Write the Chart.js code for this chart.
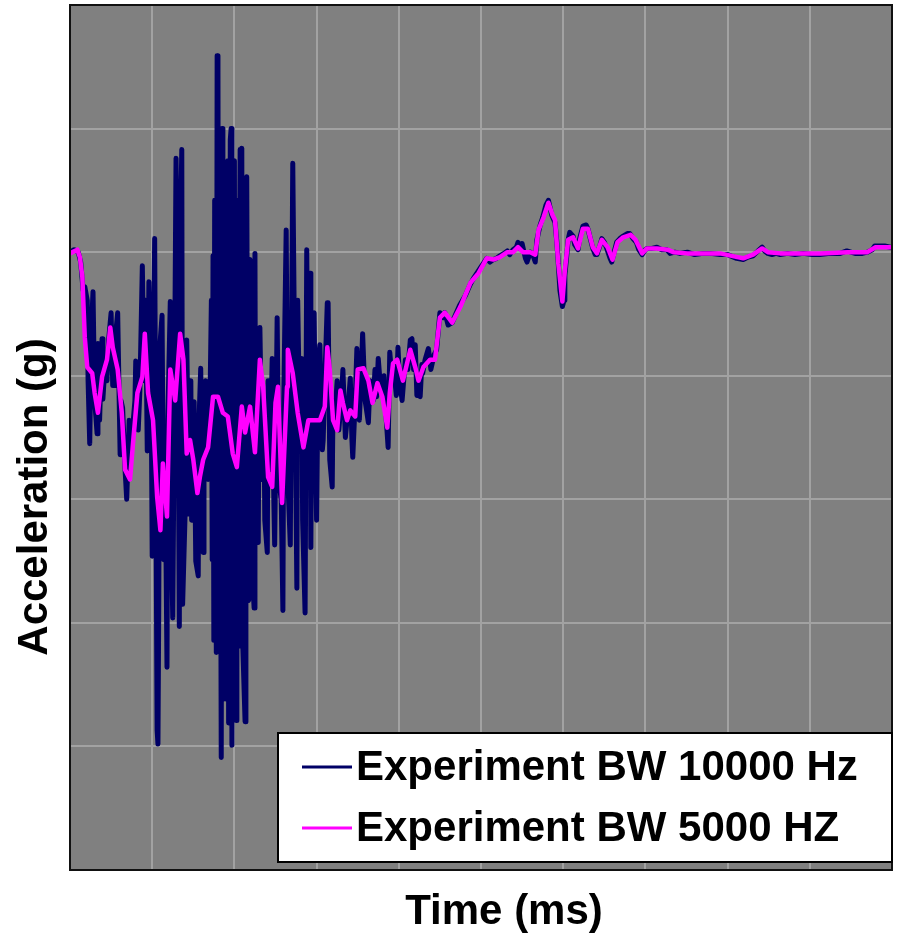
<!DOCTYPE html>
<html>
<head>
<meta charset="utf-8">
<title>Acceleration vs Time</title>
<script src="https://cdn.jsdelivr.net/npm/chart.js@4.4.0/dist/chart.umd.min.js"></script>
<style>
  html, body { margin: 0; padding: 0; background: #ffffff; }
  #wrap { width: 897px; height: 935px; }
</style>
</head>
<body>
<div id="wrap"><canvas id="myChart" width="897" height="935"></canvas></div>
<script>
// time in ms (0-100), acceleration in g (-50..20)

const seriesLabels = ["Experiment BW 10000 Hz", "Experiment BW 5000 HZ"];
const xTitle = "Time (ms)";
const yTitle = "Acceleration (g)";

// BW 10000 Hz (noisy one)
const blueTime = [
  0,0.5,1.0,1.3,1.6,1.8,2.1,2.2,2.4,2.6,
  2.8,3.0,3.3,3.4,3.6,3.9,4.0,4.3,4.5,4.7,
  5.0,5.2,5.5,5.6,5.8,6.1,6.2,6.4,6.7,6.9,
  7.2,7.4,7.7,7.9,8.0,8.3,8.5,8.8,9.0,9.2,
  9.4,9.6,9.9,10.0,10.1,10.3,10.6,10.7,10.8,10.9,
  11.2,11.4,11.6,11.8,11.9,12.2,12.3,12.5,12.7,12.9,
  13.1,13.3,13.4,13.6,13.7,14.0,14.2,14.5,14.7,14.8,
  15.1,15.3,15.6,15.7,15.9,16.2,16.3,16.5,16.8,17.0,
  17.2,17.3,17.4,17.5,17.6,17.8,17.9,18.0,18.1,18.2,
  18.4,18.5,18.6,18.7,18.9,19.0,19.1,19.2,19.3,19.5,
  19.6,19.7,19.8,20.0,20.1,20.2,20.3,20.4,20.7,20.8,
  20.9,21.0,21.3,21.4,21.5,21.7,21.8,21.9,22.1,22.4,
  22.5,22.6,22.9,23.0,23.1,23.4,23.6,23.7,24.0,24.1,
  24.3,24.6,24.8,24.9,25.2,25.4,25.7,25.9,26.0,26.3,
  26.5,26.8,26.9,27.1,27.4,27.6,27.7,28.0,28.2,28.3,
  28.6,28.8,29.0,29.2,29.3,29.4,29.7,29.9,30.0,30.2,
  30.4,30.7,30.8,31.0,31.3,31.4,31.6,31.9,32.0,32.2,
  32.5,32.7,33.0,33.2,33.5,33.7,34.1,34.3,34.4,34.7,
  34.9,35.2,35.4,35.6,35.9,36.3,36.5,36.9,37.1,37.3,
  37.5,37.8,38.2,38.4,38.7,38.9,39.2,39.4,39.7,39.9,
  40.1,40.4,40.8,41.1,41.4,41.6,41.8,42.0,42.2,42.5,
  42.6,42.8,42.9,43.2,43.6,43.9,44.3,44.6,45.0,45.4,
  45.6,46.0,46.5,47.0,47.4,48.1,48.7,49.1,49.6,50.2,
  50.7,51.1,51.5,51.9,52.3,52.8,53.2,53.5,53.9,54.3,
  54.5,54.7,55.0,55.4,55.6,56.0,56.3,56.6,56.8,57.2,
  57.5,57.9,58.2,58.4,58.6,59.0,59.2,59.4,59.6,59.9,
  60.1,60.2,60.5,60.6,60.8,61.2,61.4,61.8,62.0,62.4,
  62.8,63.0,63.3,63.6,63.9,64.1,64.5,64.7,65.0,65.3,
  65.7,65.9,66.2,66.5,66.9,67.3,67.8,68.1,68.5,68.9,
  69.2,69.6,70.0,70.2,70.8,71.4,72.0,72.6,73.0,73.6,
  74.2,75.1,76.0,77.0,77.9,79.1,80.0,81.1,81.9,82.5,
  83.1,83.7,84.2,84.5,84.9,85.4,85.9,86.4,87.3,88.2,
  89.2,90.3,91.2,92.5,93.7,94.5,95.5,96.4,97.0,97.6,
  97.9,98.5,99.1,99.8
];
const blueAccel = [
  0,0.2,0,-0.8,-3.1,-2.8,-3.9,-10.4,-15.5,-6.3,
  -3.2,-12.0,-14.7,-7.4,-13.6,-7.0,-11.9,-8.7,-10.4,-7.1,
  -4.9,-10.8,-10.8,-6.3,-4.9,-16.4,-12.0,-12.6,-17.6,-20.0,
  -13.6,-16.6,-13.6,-12.0,-8.8,-14.4,-11.2,-1.1,-10.4,-3.9,
  -16.1,-2.4,-13.6,-24.6,-12.0,1.1,-38.7,-39.8,-28.2,-7.9,
  -5.1,-24.9,-18.4,-33.6,-13.6,-4.0,-21.7,-29.6,-12.0,7.6,
  -3.9,-30.3,0.2,8.3,-28.5,-21.2,-7.1,-21.2,-10.4,-21.7,
  -12.1,-25.0,-26.2,-13.6,-9.4,-24.3,-15.2,-10.4,-18.4,-13.6,
  -3.9,-24.9,-0.3,-31.4,4.2,-32.4,15.9,14.7,-28.2,9.1,
  -40.9,10.0,-36.2,4.2,-31.0,6.2,-36.2,7.4,-38.1,9.1,
  10.0,-39.9,4.2,7.4,-31.4,-37.9,4.2,-29.8,8.3,-31.9,
  8.4,-31.4,-38.0,5.0,6.1,-28.2,-28.0,-0.6,-24.9,-28.8,
  -0.1,-21.7,-23.5,-12.0,-6.1,-18.4,-13.6,-21.7,-24.3,-10.4,
  -17.6,-8.6,-20.1,-23.7,-5.3,-18.4,-20.1,-29.0,-12.0,1.8,
  -18.4,-23.7,-12.0,7.2,-13.6,-27.2,-3.9,-16.0,-8.6,-21.7,
  -29.2,0.2,-16.8,-1.7,-23.9,-12.0,-4.9,-17.6,-21.7,-8.7,
  -7.5,-16.0,-15.2,-10.4,-4.1,-4.1,-16.8,-19.0,-12.0,-13.6,
  -10.4,-14.4,-12.0,-9.5,-15.0,-13.6,-10.2,-15.2,-16.6,-12.0,
  -7.8,-13.6,-10.4,-6.6,-12.0,-13.8,-10.4,-12.0,-9.5,-11.7,
  -8.6,-11.2,-10.0,-12.8,-15.8,-8.1,-10.4,-9.5,-11.6,-7.7,
  -10.4,-12.0,-8.7,-9.5,-7.1,-7.0,-9.5,-7.5,-11.6,-10.4,
  -11.7,-9.1,-9.8,-8.7,-7.8,-9.5,-8.3,-7.9,-4.9,-5.3,
  -4.9,-5.9,-5.7,-4.9,-4.3,-3.5,-2.6,-2.1,-1.6,-1.0,
  -0.5,-0.8,-0.6,-0.5,-0.3,-0.1,0.1,-0.2,0.2,0.4,
  0.8,0.3,0.7,-0.5,-0.8,0,-0.2,-0.8,1.0,2.2,
  2.8,3.8,4.2,3.6,3.0,2.4,1.0,-0.9,-3.1,-4.4,
  -3.9,-1.9,0.2,1.0,1.6,1.3,0.6,0.2,1.1,2.1,
  2.2,1.9,1.1,0.3,-0.2,-0.2,0.6,1.1,0.8,0.3,
  -0.5,-0.8,0,0.8,1.1,1.3,1.5,1.5,1.1,0.8,
  0.2,-0.2,0.2,0.3,0.3,0.4,0.2,0.2,-0.1,0,
  -0.1,0,-0.2,-0.1,-0.1,-0.2,-0.2,-0.5,-0.6,-0.4,
  -0.3,0.1,0.4,0.1,-0.1,-0.2,-0.1,-0.2,-0.1,-0.2,
  -0.1,-0.2,-0.2,-0.1,-0.1,0.1,-0.1,-0.1,0,0.2,
  0.5,0.5,0.5,0.4
];

// BW 5000 Hz (smoother one)
const magentaTime = [
  0,0.9,1.2,1.5,1.8,2.1,2.7,3.0,3.4,3.9,
  4.5,4.9,5.2,5.8,6.3,6.7,7.3,7.7,8.2,8.8,
  9.1,9.5,10.1,10.6,11.0,11.3,11.8,12.2,12.8,13.4,
  13.8,14.2,14.6,15.0,15.5,15.8,16.2,16.8,17.4,18.0,
  18.6,19.2,19.8,20.3,20.9,21.3,21.9,22.5,23.1,23.5,
  24.1,24.6,25.0,25.3,25.8,26.4,26.5,27.1,27.7,28.4,
  29.0,29.6,30.4,31.0,31.3,31.6,32.0,32.5,32.9,33.2,
  33.7,34.1,34.7,35.0,35.7,36.3,36.8,37.4,38.0,38.6,
  38.9,39.3,39.8,40.5,41.4,42.0,42.4,43.0,43.8,44.4,
  45.0,45.6,46.5,47.5,48.7,49.7,50.7,51.5,52.3,53.2,
  53.9,54.5,55.1,56.0,56.6,57.0,57.6,58.2,58.7,59.0,
  59.4,59.9,60.2,60.6,61.2,61.8,62.4,63.0,63.6,64.1,
  64.7,65.4,66.0,66.6,67.3,68.2,68.8,69.6,70.2,71.4,
  72.7,73.4,75.1,77.0,79.1,81.2,81.9,83.1,84.2,84.9,
  86.4,89.2,91.3,94.6,97.0,98.0,99.8
];
const magentaAccel = [
  -0.1,0.2,-0.4,-2.0,-6.9,-9.3,-9.8,-11.4,-13.0,-10.1,
  -8.7,-6.1,-7.7,-9.5,-13.0,-17.6,-18.4,-15.2,-11.4,-10.1,
  -6.6,-11.4,-13.6,-19.8,-22.5,-17.1,-21.4,-9.5,-12.0,-6.6,
  -8.7,-16.3,-15.2,-16.8,-19.5,-18.2,-16.8,-15.8,-11.7,-11.7,
  -13.0,-13.3,-16.3,-17.4,-12.5,-14.6,-12.5,-16.2,-8.7,-10.9,
  -18.2,-19.0,-12.2,-10.9,-20.3,-10.9,-7.9,-9.8,-13.0,-15.8,
  -13.6,-13.6,-13.6,-12.5,-7.7,-9.5,-13.6,-14.4,-11.2,-12.2,
  -13.6,-12.8,-13.3,-9.5,-9.4,-10.4,-12.2,-10.6,-11.7,-14.2,
  -11.4,-9.0,-8.7,-10.4,-7.9,-9.3,-10.4,-9.3,-8.7,-8.7,
  -5.3,-4.9,-5.7,-4.4,-2.5,-1.7,-0.5,-0.6,-0.4,0,
  0,0.4,0,0,-0.2,1.8,2.8,4.0,3.0,2.6,
  -0.9,-4.0,-1.5,1.0,1.2,0.3,1.9,1.9,0.4,-0.1,
  1.0,0.4,-0.6,0.8,1.2,1.4,1.0,-0.1,0.3,0.3,
  0.2,0,-0.1,-0.1,-0.1,-0.4,-0.5,-0.2,0.3,0,
  -0.1,-0.1,-0.1,0,0,0.4,0.4
];

// axis ranges (no tick labels on the original)
const timeMin = 0, timeMax = 100, timeStep = 10;
const accelMin = -50, accelMax = 20, accelStep = 10;

const toPoints = (xs, ys) => xs.map((x, i) => ({ x: x, y: ys[i] }));

const FONT = "'Liberation Sans', Arial, Helvetica, sans-serif";
Chart.defaults.font.family = FONT;

// gray plot area
const plotBackground = {
  id: "plotBackground",
  beforeDraw(chart) {
    const { ctx, chartArea: a } = chart;
    ctx.save();
    ctx.fillStyle = "#808080";
    ctx.fillRect(a.left, a.top, a.right - a.left, a.bottom - a.top);
    ctx.restore();
  }
};

// frame, axis titles and the boxed legend in the lower right
const frameAndLegend = {
  id: "frameAndLegend",
  afterDraw(chart) {
    const { ctx, chartArea: a } = chart;
    ctx.save();
    ctx.strokeStyle = "#111111";
    ctx.lineWidth = 2;
    ctx.strokeRect(a.left, a.top, a.right - a.left, a.bottom - a.top);

    // axis titles (the original sits them a bit right / low of centre)
    ctx.fillStyle = "#000000";
    ctx.font = "bold 42px " + FONT;
    ctx.textAlign = "center";
    ctx.textBaseline = "middle";
    ctx.fillText(xTitle, 504, a.bottom + 42);
    ctx.save();
    ctx.translate(35, 497);
    ctx.rotate(-Math.PI / 2);
    ctx.fillText(yTitle, 0, 0);
    ctx.restore();

    const boxLeft = a.right - 614;
    const boxTop = a.bottom - 137;
    const boxBottom = a.bottom - 8;
    ctx.fillStyle = "#ffffff";
    ctx.fillRect(boxLeft, boxTop, a.right - boxLeft, boxBottom - boxTop);
    ctx.strokeStyle = "#000000";
    ctx.lineWidth = 2;
    ctx.strokeRect(boxLeft, boxTop, a.right - boxLeft, boxBottom - boxTop);

    ctx.textAlign = "left";
    const rows = [boxTop + 34, boxTop + 95];
    chart.data.datasets.forEach((ds, i) => {
      const y = rows[i];
      ctx.strokeStyle = ds.borderColor;
      ctx.lineWidth = 3;
      ctx.beginPath();
      ctx.moveTo(boxLeft + 24, y);
      ctx.lineTo(boxLeft + 74, y);
      ctx.stroke();
      ctx.fillStyle = "#000000";
      ctx.fillText(ds.label, boxLeft + 78, y + 1);
    });
    ctx.restore();
  }
};

const ctx = document.getElementById("myChart").getContext("2d");
const myChart = new Chart(ctx, {
  type: "line",
  data: {
    datasets: [
      {
        label: seriesLabels[0],
        data: toPoints(blueTime, blueAccel),
        borderColor: "#000066",
        borderWidth: 5,
        pointRadius: 0,
        tension: 0,
        borderJoinStyle: "round",
        borderCapStyle: "round",
        order: 1
      },
      {
        label: seriesLabels[1],
        data: toPoints(magentaTime, magentaAccel),
        borderColor: "#ff00ff",
        borderWidth: 4.5,
        pointRadius: 0,
        tension: 0,
        borderJoinStyle: "round",
        borderCapStyle: "round",
        order: 0
      }
    ]
  },
  options: {
    responsive: false,
    animation: false,
    events: [],
    layout: { padding: { top: 5, right: 5, left: 70, bottom: 65 } },
    plugins: {
      legend: { display: false },
      tooltip: { enabled: false }
    },
    scales: {
      x: {
        type: "linear",
        min: timeMin,
        max: timeMax,
        ticks: { display: false, stepSize: timeStep },
        grid: { color: "#a2a2a2", lineWidth: 2, drawTicks: false },
        border: { display: false },
        title: { display: false }
      },
      y: {
        type: "linear",
        min: accelMin,
        max: accelMax,
        ticks: { display: false, stepSize: accelStep },
        grid: { color: "#a2a2a2", lineWidth: 2, drawTicks: false },
        border: { display: false },
        title: { display: false }
      }
    }
  },
  plugins: [plotBackground, frameAndLegend]
});
</script>
</body>
</html>
